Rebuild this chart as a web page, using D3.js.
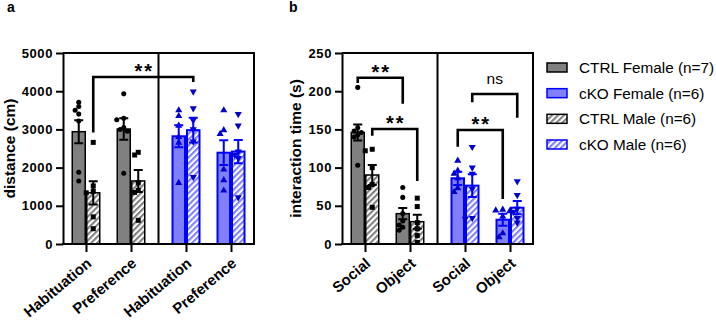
<!DOCTYPE html>
<html lang="en">
<head>
<meta charset="UTF-8">
<title>Distance and interaction time</title>
<script src="https://d3js.org/d3.v7.min.js"></script>
<style>
  body { margin: 0; background: #fff; }
  svg text { font-family: "Liberation Sans", Arial, sans-serif; fill: #000; }
  .axis .domain { stroke-width: 2; }
  .axis line { stroke-width: 2; }
  .axis text { font-size: 13px; font-weight: bold; letter-spacing: 0.6px; }
</style>
</head>
<body>
<svg id="chart" width="716" height="321"></svg>
<script>
const genotypes = ["CTRL", "cKO"];
const sexes = ["Female", "Male"];
// legend order as in the figure
const legendLabels = ["CTRL Female (n=7)", "cKO Female (n=6)", "CTRL Male (n=6)", "cKO Male (n=6)"];
const legendSeries = [0, 2, 1, 3];

// value arrays are ordered: CTRL Female, CTRL Male, cKO Female, cKO Male
const distConditions = ["Habituation", "Preference"];
const distTicks = [0, 1000, 2000, 3000, 4000, 5000];
const distMean = [[2940, 3010], [1340, 1650], [2820, 2390], [2980, 2420]];
const distSem = [[300, 280], [305, 290], [290, 323], [323, 305]];
const distPoints = [
  [[3710, 3600, 3500, 3400, 3220, 1880, 1650], [3930, 3290, 3250, 3050, 3000, 2950, 1850]],
  [[2660, 1520, 1380, 1340, 710, 400], [2400, 2330, 1600, 1400, 1350, 620]],
  [[3500, 3350, 3100, 2800, 2650, 1600], [3500, 2980, 2880, 1950, 1670, 1400]],
  [[3990, 3550, 3240, 3000, 2680, 1750], [3400, 3100, 2420, 2330, 2250, 1220]]
];
// [genotype, condition, sex] -> [genotype, condition, sex], line, left leg end, right leg end, label
const distBrackets = [
  [[0, 0, 1], [1, 0, 1], 4370, 2920, 4240, "**"]
];

const timeConditions = ["Social", "Object"];
const timeTicks = [0, 50, 100, 150, 200, 250];
const timeMean = [[146, 39.7], [90.3, 29.2], [86, 31.8], [76.4, 47.5]];
const timeSem = [[10.5, 7.4], [13, 9.2], [8.7, 7.8], [15, 8.7]];
const timePoints = [
  [[205, 152, 148, 146, 143, 140, 103], [74, 61, 40, 30, 25, 22, 18]],
  [[124, 122, 100, 78, 74, 48], [60, 49, 28, 20, 11, 2]],
  [[109, 96, 92, 86, 73, 68], [45, 44, 43, 36, 14, 9]],
  [[127, 100, 92, 72, 34, 33], [82, 64, 46, 42, 34, 28]]
];
const timeBrackets = [
  [[0, 0, 0], [0, 1, 0], 217.7, 210.7, 183.6, "**"],
  [[0, 0, 1], [0, 1, 1], 150.5, 141.8, 82.5, "**"],
  [[1, 0, 0], [1, 1, 0], 149.2, 127.4, 58.9, "**"],
  [[1, 0, 1], [1, 1, 1], 196.3, 185.4, 165.4, "ns"]
];

const svg = d3.select("#chart");
svg.append("rect").attr("width", 716).attr("height", 321).attr("fill", "#fff");

const defs = svg.append("defs");
function hatch(id, color) {
  const p = defs.append("pattern").attr("id", id)
    .attr("patternUnits", "userSpaceOnUse")
    .attr("width", 4.2).attr("height", 4.2)
    .attr("patternTransform", "rotate(45)");
  p.append("rect").attr("width", 4.2).attr("height", 4.2).attr("fill", "#fff");
  p.append("rect").attr("width", 2.1).attr("height", 4.2).attr("fill", color);
}
hatch("hatchGray", "#808080");
hatch("hatchBlue", "#8080ff");

const fills = ["#808080", "url(#hatchGray)", "#8080ff", "url(#hatchBlue)"];
const strokes = ["#000", "#000", "#0000ff", "#0000ff"];
const strokeW = [1.5, 1.5, 2, 2];
const markColor = ["#000", "#000", "#0000cc", "#0000cc"];
const symbols = [
  d3.symbol().type(d3.symbolCircle).size(20),
  d3.symbol().type(d3.symbolSquare).size(25),
  d3.symbol().type(d3.symbolTriangle).size(22),
  d3.symbol().type(d3.symbolTriangle).size(22)
];

const plotTop = 53, plotBottom = 244, plotW = 191, barW = 14.5;
const gap = 0.222, pad = 0.511;

function drawPanel(cfg) {
  const g = svg.append("g");
  const y = d3.scaleLinear().domain([0, cfg.max]).range([plotBottom, plotTop]);
  const slot = d3.scaleLinear().domain([-pad, 3 + gap + pad]).range([cfg.left, cfg.left + plotW]);
  const sexX = d3.scaleBand().domain(sexes).range([-barW, barW]);
  const cx = (gi, ci) => slot(gi * (2 + gap) + ci);
  const keys = [], pos = [];
  genotypes.forEach((gn, gi) => cfg.conditions.forEach((c, ci) => {
    keys.push(gn + "|" + c); pos.push(cx(gi, ci));
  }));
  const xAxisScale = d3.scaleOrdinal().domain(keys).range(pos);

  // bars
  for (let s = 0; s < 4; s++) {
    const gi = s >> 1, si = s & 1;
    cfg.conditions.forEach((c, ci) => {
      const m = cfg.mean[s][ci];
      g.append("rect")
        .attr("x", cx(gi, ci) + sexX(sexes[si]) + strokeW[s] / 2)
        .attr("y", y(m))
        .attr("width", sexX.bandwidth() - strokeW[s])
        .attr("height", y(0) - y(m))
        .attr("fill", fills[s])
        .attr("stroke", strokes[s])
        .attr("stroke-width", strokeW[s]);
    });
  }

  // points, spread sideways when they touch
  for (let s = 0; s < 4; s++) {
    const gi = s >> 1, si = s & 1;
    cfg.conditions.forEach((c, ci) => {
      const x0 = cx(gi, ci) + sexX(sexes[si]) + sexX.bandwidth() / 2;
      const placed = [];
      cfg.points[s][ci].forEach(v => {
        const py = y(v);
        let px = x0;
        for (const off of [0, -3.6, 3.6, -7, 7]) {
          if (placed.every(p => Math.hypot(p[0] - (x0 + off), p[1] - py) >= 4)) { px = x0 + off; break; }
        }
        placed.push([px, py]);
        g.append("path")
          .attr("d", symbols[s]())
          .attr("transform", `translate(${px},${py})` + (s === 3 ? " rotate(180)" : ""))
          .attr("fill", markColor[s]);
      });
    });
  }

  // error bars
  for (let s = 0; s < 4; s++) {
    const gi = s >> 1, si = s & 1;
    cfg.conditions.forEach((c, ci) => {
      const x0 = cx(gi, ci) + sexX(sexes[si]) + sexX.bandwidth() / 2;
      const m = cfg.mean[s][ci], e = cfg.sem[s][ci];
      const col = s < 2 ? "#000" : "#0000ff";
      const path = d3.path();
      path.moveTo(x0, y(m - e)); path.lineTo(x0, y(m + e));
      [m - e, m + e].forEach(v => { path.moveTo(x0 - 4.5, y(v)); path.lineTo(x0 + 4.5, y(v)); });
      g.append("path").attr("d", path.toString())
        .attr("stroke", col).attr("stroke-width", 2).attr("fill", "none");
    });
  }

  // frame: top, right, divider
  const frame = d3.path();
  frame.moveTo(cfg.left, plotTop); frame.lineTo(cfg.left + plotW, plotTop); frame.lineTo(cfg.left + plotW, plotBottom);
  frame.moveTo(slot(1 + gap / 2 + 0.5), plotTop); frame.lineTo(slot(1 + gap / 2 + 0.5), plotBottom);
  g.append("path").attr("d", frame.toString()).attr("stroke", "#000").attr("stroke-width", 2).attr("fill", "none");

  // axes
  g.append("g").attr("class", "axis")
    .attr("transform", `translate(${cfg.left},0)`)
    .call(d3.axisLeft(y).tickValues(cfg.ticks).tickFormat(d3.format("d"))
      .tickSize(7).tickSizeOuter(0).tickPadding(3));

  const xa = g.append("g").attr("class", "axis")
    .attr("transform", `translate(0,${plotBottom})`)
    .call(d3.axisBottom(xAxisScale).tickSize(8).tickFormat(k => k.split("|")[1]));
  xa.select(".domain").remove();
  xa.selectAll(".tick text")
    .attr("text-anchor", "end")
    .attr("dy", null)
    .attr("y", 0)
    .style("font-size", "15px")
    .style("letter-spacing", "0px")
    .attr("transform", "translate(6,21) rotate(-40)");
  g.append("line")
    .attr("x1", cfg.left - 1).attr("x2", cfg.left + plotW + 1)
    .attr("y1", plotBottom).attr("y2", plotBottom)
    .attr("stroke", "#000").attr("stroke-width", 2);

  // significance brackets
  cfg.brackets.forEach(b => {
    const xFor = a => cx(a[0], a[1]) + sexX(sexes[a[2]]) + sexX.bandwidth() / 2;
    const x1 = xFor(b[0]), x2 = xFor(b[1]);
    const p = d3.path();
    p.moveTo(x1, y(b[3])); p.lineTo(x1, y(b[2])); p.lineTo(x2, y(b[2])); p.lineTo(x2, y(b[4]));
    g.append("path").attr("d", p.toString())
      .attr("stroke", "#000").attr("stroke-width", 2.6).attr("fill", "none");
    const t = g.append("text").attr("x", (x1 + x2) / 2).attr("text-anchor", "middle").text(b[5]);
    if (b[5] === "ns") {
      t.attr("y", y(b[2]) - 10).style("font-size", "15.5px");
    } else {
      t.attr("y", y(b[2]) + 1).attr("dx", 1).style("font-size", "20px")
        .style("font-weight", "bold").style("letter-spacing", "2px");
    }
  });

  // axis title and panel letter
  g.append("text")
    .attr("transform", `translate(${cfg.titleX},${(plotTop + plotBottom) / 2}) rotate(-90)`)
    .attr("text-anchor", "middle")
    .style("font-size", "15.5px").style("font-weight", "bold")
    .text(cfg.title);
  g.append("text").attr("x", cfg.letterX).attr("y", 11.5)
    .style("font-size", "14px").style("font-weight", "bold").text(cfg.letter);
}

drawPanel({ left: 63, max: 5000, ticks: distTicks, conditions: distConditions,
  mean: distMean, sem: distSem, points: distPoints, brackets: distBrackets,
  title: "distance (cm)", titleX: 14.5, letter: "a", letterX: 7 });
drawPanel({ left: 342, max: 250, ticks: timeTicks, conditions: timeConditions,
  mean: timeMean, sem: timeSem, points: timePoints, brackets: timeBrackets,
  title: "interaction time (s)", titleX: 301, letter: "b", letterX: 289 });

// legend
const legend = svg.append("g").attr("transform", "translate(547,0)");
const rowY = d3.scalePoint().domain(legendLabels).range([67.5, 144.5]);
legendLabels.forEach((lab, i) => {
  const s = legendSeries[i];
  legend.append("rect")
    .attr("x", 0).attr("y", rowY(lab) - 4.5).attr("width", 20).attr("height", 9)
    .attr("fill", fills[s]).attr("stroke", strokes[s]).attr("stroke-width", 1.5);
  legend.append("text").attr("x", 32).attr("y", rowY(lab) + 5.5)
    .style("font-size", "15.3px").text(lab);
});
</script>
</body>
</html>
